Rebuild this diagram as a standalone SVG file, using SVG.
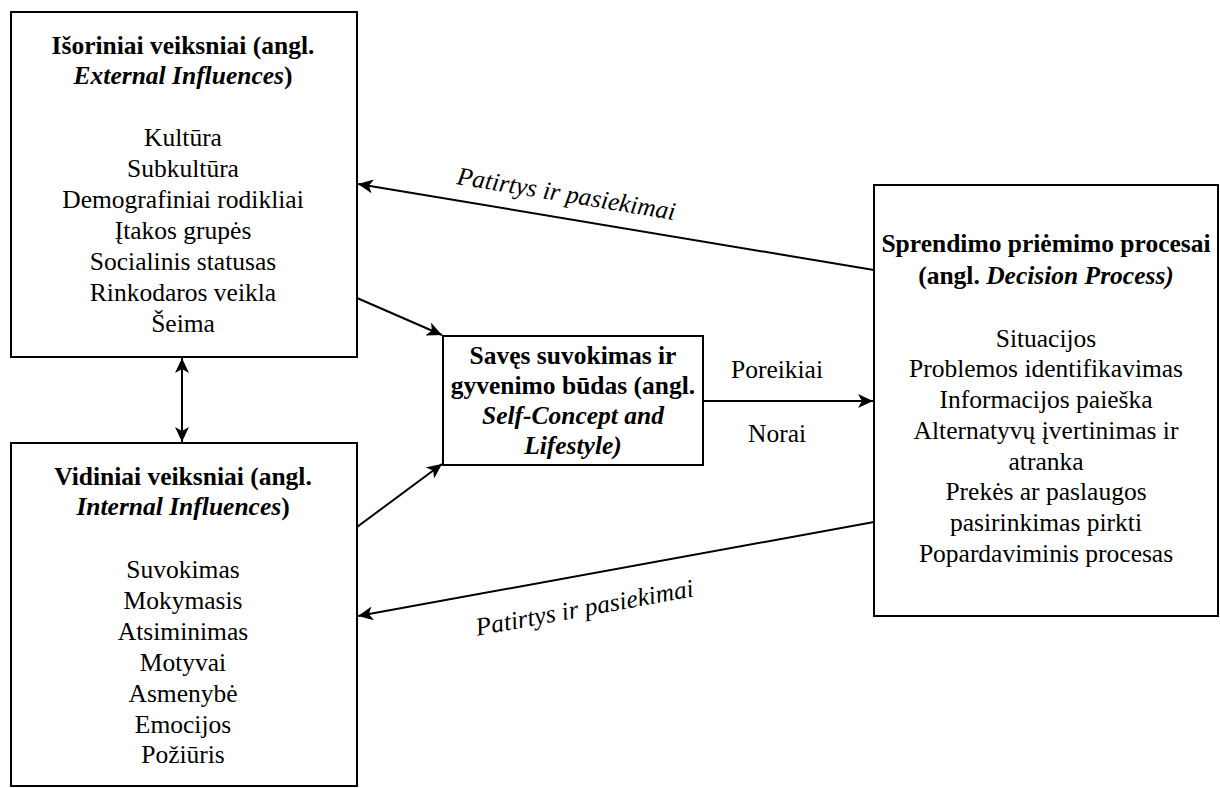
<svg xmlns="http://www.w3.org/2000/svg" width="1220" height="788" viewBox="0 0 1220 788">
<style>
.box{fill:#fff;stroke:#000;stroke-width:2}
.t{font-family:'Liberation Serif','Times New Roman',serif;font-size:25.5px;fill:#000;text-anchor:middle}
.b{font-weight:bold}
.i{font-style:italic}
.c{stroke:#000;stroke-width:2;fill:none}
</style>
<defs>
<marker id="ah" markerUnits="userSpaceOnUse" markerWidth="16" markerHeight="14" refX="15" refY="7" orient="auto-start-reverse">
<path d="M0,0 L15,7 L0,14 L4,7 Z" fill="#000"/>
</marker>
</defs>
<g id="connectors">
<line class="c" x1="182" y1="358" x2="182" y2="442" marker-start="url(#ah)" marker-end="url(#ah)"/>
<line class="c" x1="874" y1="270" x2="358" y2="184" marker-end="url(#ah)"/>
<line class="c" x1="357" y1="298" x2="442" y2="335" marker-end="url(#ah)"/>
<line class="c" x1="357" y1="527" x2="442" y2="464" marker-end="url(#ah)"/>
<line class="c" x1="703" y1="401" x2="873" y2="401" marker-end="url(#ah)"/>
<line class="c" x1="874" y1="522" x2="358" y2="616" marker-end="url(#ah)"/>
<text class="t i" transform="translate(565,202) rotate(9.4)">Patirtys ir pasiekimai</text>
<text class="t i" transform="translate(586,616) rotate(-10.3)">Patirtys ir pasiekimai</text>
<text class="t" x="777" y="378">Poreikiai</text>
<text class="t" x="777" y="442">Norai</text>
</g>
<g id="external">
<rect class="box" x="11" y="12" width="346" height="345"/>
<text class="t b" x="183" y="54">Išoriniai veiksniai (angl.</text>
<text class="t b" x="183" y="84"><tspan class="i">External Influences</tspan>)</text>
<text class="t" x="183" y="146">Kultūra</text>
<text class="t" x="183" y="177">Subkultūra</text>
<text class="t" x="183" y="208">Demografiniai rodikliai</text>
<text class="t" x="183" y="239">Įtakos grupės</text>
<text class="t" x="183" y="270">Socialinis statusas</text>
<text class="t" x="183" y="301">Rinkodaros veikla</text>
<text class="t" x="183" y="332">Šeima</text>
</g>
<g id="internal">
<rect class="box" x="11" y="443" width="346" height="343"/>
<text class="t b" x="183" y="485">Vidiniai veiksniai (angl.</text>
<text class="t b" x="183" y="515"><tspan class="i">Internal Influences</tspan>)</text>
<text class="t" x="183" y="578">Suvokimas</text>
<text class="t" x="183" y="609">Mokymasis</text>
<text class="t" x="183" y="640">Atsiminimas</text>
<text class="t" x="183" y="671">Motyvai</text>
<text class="t" x="183" y="702">Asmenybė</text>
<text class="t" x="183" y="733">Emocijos</text>
<text class="t" x="183" y="763">Požiūris</text>
</g>
<g id="self">
<rect class="box" x="443" y="336" width="260" height="129"/>
<text class="t b" x="573" y="364">Savęs suvokimas ir</text>
<text class="t b" x="573" y="394">gyvenimo būdas (angl.</text>
<text class="t b i" x="573" y="424">Self-Concept and</text>
<text class="t b i" x="573" y="454">Lifestyle)</text>
</g>
<g id="decision">
<rect class="box" x="874" y="185" width="344" height="431"/>
<text class="t b" x="1046" y="252">Sprendimo priėmimo procesai</text>
<text class="t b" x="1046" y="284">(angl. <tspan class="i">Decision Process)</tspan></text>
<text class="t" x="1046" y="347">Situacijos</text>
<text class="t" x="1046" y="377">Problemos identifikavimas</text>
<text class="t" x="1046" y="408">Informacijos paieška</text>
<text class="t" x="1046" y="439">Alternatyvų įvertinimas ir</text>
<text class="t" x="1046" y="470">atranka</text>
<text class="t" x="1046" y="500">Prekės ar paslaugos</text>
<text class="t" x="1046" y="531">pasirinkimas pirkti</text>
<text class="t" x="1046" y="562">Popardaviminis procesas</text>
</g>
</svg>
